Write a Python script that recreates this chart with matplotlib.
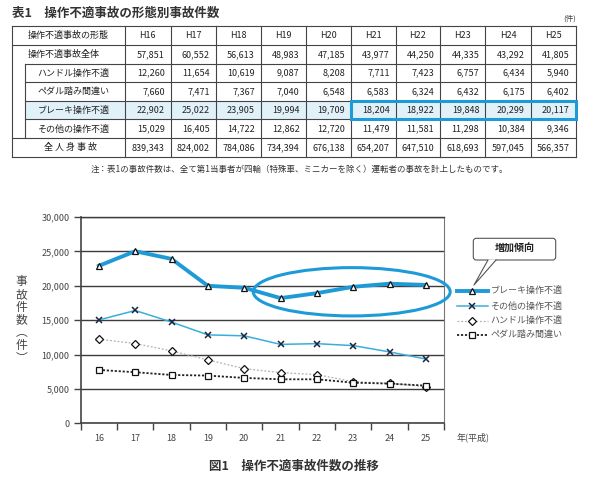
import matplotlib
matplotlib.use('Agg')
import matplotlib.pyplot as plt
from matplotlib.patches import Ellipse, FancyBboxPatch, Polygon, Rectangle
from matplotlib.lines import Line2D
import numpy as np

plt.rcParams['font.family'] = ['Noto Sans CJK JP', 'DejaVu Sans']

# ---------------- data ----------------
years = ['H16', 'H17', 'H18', 'H19', 'H20', 'H21', 'H22', 'H23', 'H24', 'H25']
x_labels = ['16', '17', '18', '19', '20', '21', '22', '23', '24', '25']
row_labels = ['操作不適事故全体', 'ハンドル操作不適', 'ペダル踏み間違い',
              'ブレーキ操作不適', 'その他の操作不適', '全 人 身 事 故']
total = [57851, 60552, 56613, 48983, 47185, 43977, 44250, 44335, 43292, 41805]
handle = [12260, 11654, 10619, 9087, 8208, 7711, 7423, 6757, 6434, 5940]
pedal = [7660, 7471, 7367, 7040, 6548, 6583, 6324, 6432, 6175, 6402]
brake = [22902, 25022, 23905, 19994, 19709, 18204, 18922, 19848, 20299, 20117]
other = [15029, 16405, 14722, 12862, 12720, 11479, 11581, 11298, 10384, 9346]
all_injury = [839343, 824002, 784086, 734394, 676138, 654207, 647510, 618693, 597045, 566357]
# values as plotted in the figure
handle_plot = [12230, 11600, 10530, 9220, 7950, 7370, 7080, 6060, 5820, 5330]
pedal_plot = [7760, 7430, 7030, 6940, 6600, 6400, 6400, 5910, 5770, 5480]

series_names = ['ブレーキ操作不適', 'その他の操作不適', 'ハンドル操作不適', 'ペダル踏み間違い']

BLUE = '#1e9bd7'
LBLUE = '#3aaedb'
TXT = '#222222'

fig = plt.figure(figsize=(6.0, 4.86), dpi=100)

# background axes in pixel coordinates
bg = fig.add_axes([0, 0, 1, 1], zorder=0)
bg.set_xlim(0, 600)
bg.set_ylim(486, 0)
bg.axis('off')

# ---------------- table ----------------
bg.text(12, 13.5, '表1　操作不適事故の形態別事故件数', fontsize=9, fontweight='bold',
        color='#333333', ha='left', va='center')
bg.text(576, 19, '(件)', fontsize=5.5, color='#444444', ha='right', va='center')

xs = [12, 125, 170.7, 215.7, 260.7, 305.7, 351, 395.7, 440.3, 485.3, 530.7, 575.7]
ys = [26, 45.3, 64, 82.5, 100.8, 119.5, 138.3, 157]
lc = '#444444'
lw = 0.8

bg.add_patch(Rectangle((25, ys[4]), xs[-1] - 25, ys[5] - ys[4], facecolor='#e1f1f9',
                       edgecolor='none', zorder=1))

for i, y in enumerate(ys):
    x0 = 25 if i in (2, 3, 4, 5) else 12
    bg.add_line(Line2D([x0, xs[-1]], [y, y], color=lc, lw=lw, zorder=2))
bg.add_line(Line2D([12, 12], [ys[0], ys[-1]], color=lc, lw=lw, zorder=2))
bg.add_line(Line2D([25, 25], [ys[2], ys[6]], color=lc, lw=lw, zorder=2))
for x in xs[1:]:
    bg.add_line(Line2D([x, x], [ys[0], ys[-1]], color=lc, lw=lw, zorder=2))

fs_t = 6.5
bg.text(68.5, (ys[0] + ys[1]) / 2, '操作不適事故の形態', fontsize=fs_t, color=TXT,
        ha='center', va='center', zorder=3)
for j, yr in enumerate(years):
    bg.text((xs[j + 1] + xs[j + 2]) / 2, (ys[0] + ys[1]) / 2, yr, fontsize=fs_t,
            color=TXT, ha='center', va='center', zorder=3)

rows = [total, handle, pedal, brake, other, all_injury]
for r, vals in enumerate(rows):
    yc = (ys[r + 1] + ys[r + 2]) / 2
    lab = row_labels[r]
    if r == 0:
        bg.text(28, yc, lab, fontsize=fs_t, color=TXT, ha='left', va='center', zorder=3)
    elif r == 5:
        bg.text(70, yc, lab, fontsize=fs_t, color=TXT, ha='center', va='center', zorder=3)
    else:
        bg.text(73.5, yc, lab, fontsize=fs_t, color=TXT, ha='center', va='center', zorder=3)
    for j, v in enumerate(vals):
        bg.text(xs[j + 2] - 6, yc, f'{v:,}', fontsize=fs_t, color=TXT,
                ha='right', va='center', zorder=3)

bg.add_patch(Rectangle((xs[6], ys[4]), xs[-1] - xs[6], ys[5] - ys[4], fill=False,
                       edgecolor=BLUE, lw=2.2, zorder=4))

bg.text(299, 169.5, '注：表1の事故件数は、全て第1当事者が四輪（特殊車、ミニカーを除く）運転者の事故を計上したものです。',
        fontsize=6.1, color='#333333', ha='center', va='center')

# ---------------- chart ----------------
L, R, T, B = 80.7, 444, 217, 423.3
ax = fig.add_axes([L / 600, 1 - B / 486, (R - L) / 600, (B - T) / 486], zorder=1)
ax.set_facecolor('none')
x = np.arange(len(x_labels))

st_brake = dict(color=BLUE, lw=2.8, marker='^', ms=5, mfc='white', mec='#111111', mew=0.9)
st_other = dict(color=LBLUE, lw=1.1, marker='x', ms=4.8, mec='#1a2540', mew=1.1)
st_handle = dict(color='#b0b0b0', lw=0.9, ls=(0, (1.5, 1.5)), marker='D', ms=4, mfc='white',
                 mec='#111111', mew=0.9)
st_pedal = dict(color='#222222', lw=1.3, ls=(0, (1.2, 1.0)), marker='s', ms=4.2, mfc='white',
                mec='#111111', mew=0.9)

ax.plot(x, handle_plot, zorder=3, **st_handle)
ax.plot(x, pedal_plot, zorder=4, **st_pedal)
ax.plot(x, other, zorder=5, **st_other)
ax.plot(x, brake, zorder=6, **st_brake)

ax.set_xlim(-0.5, 9.5)
ax.set_ylim(0, 30000)
ax.set_xticks(np.arange(-0.5, 10, 1))
ax.set_xticklabels([])
ax.set_xticks(x, minor=True)
ax.set_xticklabels(x_labels, minor=True)
ax.tick_params(axis='x', which='major', length=5, width=1.0, color='#444444', direction='out')
ax.tick_params(axis='x', which='minor', length=0, pad=8, labelsize=6.5, labelcolor='#444444')
ax.set_yticks(np.arange(0, 30001, 5000))
ax.set_yticklabels([f'{v:,}' for v in range(0, 30001, 5000)])
ax.tick_params(axis='y', length=5, width=1.0, color='#444444', direction='out', pad=3,
               labelsize=6.5, labelcolor='#444444')
ax.yaxis.grid(True, color='#3c3c3c', lw=1.0)
ax.set_axisbelow(True)
for s in ['left', 'bottom']:
    ax.spines[s].set_color('#444444')
    ax.spines[s].set_linewidth(1.2)
ax.spines['top'].set_color('#3c3c3c')
ax.spines['top'].set_linewidth(1.0)
ax.spines['right'].set_color('#777777')
ax.spines['right'].set_linewidth(0.8)

ax.add_patch(Ellipse((6.96, 19125), 5.42, 7024, fill=False, edgecolor=BLUE, lw=2.2,
                     clip_on=False, zorder=7))

bg.text(457, 437, '年(平成)', fontsize=6.5, color='#444444', ha='left', va='center')

# y label (vertical text, one character per line)
bg.text(21.7, 320, '\n'.join(['事', '故', '件', '数', '︵', '件', '︶']), fontsize=8.5,
        color='#444444', ha='center', va='center', linespacing=0.98, multialignment='center')

# legend (manual)
leg_y = [290.5, 306, 320.7, 334.7]
styles = [st_brake, st_other, st_handle, st_pedal]
for name, st, yy in zip(series_names, styles, leg_y):
    bg.add_line(Line2D([456.7, 472, 487.7], [yy, yy, yy], markevery=[1], **st))
    bg.text(490.5, yy, name, fontsize=6.5, color='#555555', ha='left', va='center')

# callout
bg.add_patch(FancyBboxPatch((473.3, 238.3), 82.4, 21.7,
                            boxstyle='round,pad=0,rounding_size=3',
                            facecolor='white', edgecolor='#555555', lw=0.8, zorder=2))
bg.add_patch(Polygon([(488, 259.4), (474, 285), (496, 259.4)], closed=True,
                     facecolor='white', edgecolor='none', zorder=3))
bg.add_line(Line2D([488, 474, 496], [260, 285, 260], color='#555555', lw=0.8, zorder=4))
bg.text(514.5, 249, '増加傾向', fontsize=7.2, fontweight='bold', color='#222222',
        ha='center', va='center', zorder=5)

# figure caption
bg.text(294, 466.5, '図1　操作不適事故件数の推移', fontsize=9, fontweight='bold',
        color='#333333', ha='center', va='center')

fig.savefig('out.png', dpi=100)
